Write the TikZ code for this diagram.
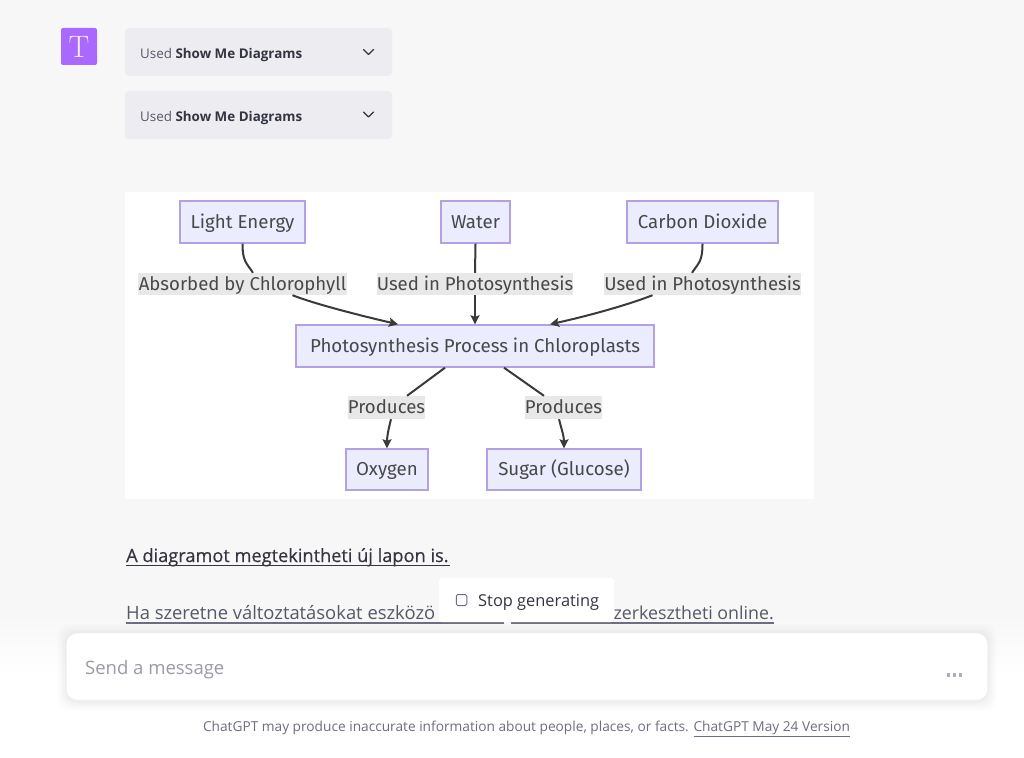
\documentclass[tikz,border=0pt]{standalone}
\usepackage{fontspec}
\usetikzlibrary{arrows.meta,calc}
\newfontfamily\diagfont{Fira Sans}
\newfontfamily\uifont{Open Sans}
\newfontfamily\uisemi[FakeBold=0.35]{Open Sans}
\definecolor{pagebg}{HTML}{F7F7F8}
\definecolor{chip}{HTML}{ECECF1}
\definecolor{avatar}{HTML}{AB68FF}
\definecolor{mfill}{HTML}{ECECFF}
\definecolor{mstroke}{HTML}{B5A0E8}
\definecolor{mtext}{HTML}{484848}
\definecolor{lblbg}{HTML}{E8E8E8}
\definecolor{edgec}{HTML}{3A3A3A}
\definecolor{uidark}{HTML}{343541}
\definecolor{uimid}{HTML}{565869}
\definecolor{uigray}{HTML}{6E6E80}
\definecolor{uilight}{HTML}{9A9AA8}
\tikzset{
  mbox/.style={draw=mstroke,fill=mfill,line width=1.4pt,inner sep=0pt,text=mtext,text height=16.5pt,text depth=4pt,font=\diagfont\fontsize{18.7}{21}\selectfont},
  mlabel/.style={fill=lblbg,inner sep=0pt,text=mtext,text height=16.5pt,text depth=4pt,font=\diagfont\fontsize{18.6}{21}\selectfont},
  edge1/.style={draw=edgec,line width=2pt},
  edge2/.style={draw=edgec,line width=2pt,-{Stealth[length=9pt,width=9pt,inset=1.5pt]}},
  chipbox/.style={fill=chip,rounded corners=4pt,draw=none,inner sep=0pt},
  chiptext/.style={anchor=west,inner sep=0pt,text height=13pt,text depth=3pt,font=\uifont\fontsize{13.4}{15}\selectfont,text=uimid},
  chev/.style={draw=uidark,line width=1.4pt,line cap=round,line join=round},
  para/.style={inner sep=0pt,text height=16pt,text depth=4pt},
}
\begin{document}
\begin{tikzpicture}[x=1pt,y=-1pt]
\useasboundingbox (0,0) rectangle (1024,757);
\fill[pagebg] (0,0) rectangle (1024,757);
% header
\node[fill=avatar,rounded corners=2pt,minimum width=36pt,minimum height=37pt,inner sep=0pt,text=white!85!avatar,font=\fontsize{31}{31}\selectfont] (av) at (79,46.5) {T};
\node[chipbox,minimum width=267pt,minimum height=48pt] (chipa) at (258.5,52) {};
\node[chipbox,minimum width=267pt,minimum height=48pt] (chipb) at (258.5,115) {};
\node[chiptext] (ta) at (140,53.5) {Used \textbf{\textcolor{uidark}{Show Me Diagrams}}};
\node[chiptext] (tb) at (140,116.5) {Used \textbf{\textcolor{uidark}{Show Me Diagrams}}};
\draw[chev] (363.5,49.5) -- (368.5,54.5) -- (373.5,49.5);
\draw[chev] (363.5,112) -- (368.5,117) -- (373.5,112);
% diagram
\fill[white] (125,192) rectangle (814,499);
\node[mbox,minimum width=125pt,minimum height=42pt] (light) at (242.5,222) {Light Energy};
\node[mbox,minimum width=69pt,minimum height=42pt] (water) at (475.5,222) {Water};
\node[mbox,minimum width=151pt,minimum height=42pt] (co2) at (702.5,222) {Carbon Dioxide};
\node[mbox,minimum width=358pt,minimum height=42pt] (proc) at (475,346) {Photosynthesis Process in Chloroplasts};
\node[mbox,minimum width=82pt,minimum height=41pt] (oxy) at (387,469.5) {Oxygen};
\node[mbox,minimum width=154pt,minimum height=41pt] (sugar) at (564,469.5) {Sugar (Glucose)};
\node[mlabel,minimum width=209pt,minimum height=22pt] (la) at (242.5,284) {Absorbed by Chlorophyll};
\node[mlabel,minimum width=196pt,minimum height=22pt] (lb) at (475,284) {Used in Photosynthesis};
\node[mlabel,minimum width=195pt,minimum height=22pt] (lc) at (702.5,284) {Used in Photosynthesis};
\node[mlabel,minimum width=77pt,minimum height=23pt] (ld) at (386.5,407.5) {Produces};
\node[mlabel,minimum width=77pt,minimum height=23pt] (le) at (563.5,407.5) {Produces};
% connectors
\draw[edge1] (light.south) .. controls ($(light.south)+(0,18)$) and ($(la.north)+(4,-10)$) .. ($(la.north)+(10.5,0)$);
\draw[edge2] ($(la.south)+(50,0)$) .. controls ($(la.south)+(70,8)$) and ($(proc.north)+(-120,-10)$) .. ($(proc.north)+(-77,0)$);
\draw[edge1] (water.south) -- (lb.north);
\draw[edge2] (lb.south) -- (proc.north);
\draw[edge1] (co2.south) .. controls ($(co2.south)+(0,18)$) and ($(lc.north)+(-4,-10)$) .. ($(lc.north)+(-10.5,0)$);
\draw[edge2] ($(lc.south)+(-50,0)$) .. controls ($(lc.south)+(-70,8)$) and ($(proc.north)+(120,-10)$) .. ($(proc.north)+(75,0)$);
\draw[edge1] ($(proc.south)+(-30,0)$) -- ($(ld.north)+(20.5,0)$);
\draw[edge2] ($(ld.south)+(4.5,0)$) .. controls ($(ld.south)+(2,10)$) and ($(oxy.north)+(0,-12)$) .. (oxy.north);
\draw[edge1] ($(proc.south)+(29,0)$) -- ($(le.north)+(-19.5,0)$);
\draw[edge2] ($(le.south)+(-4.5,0)$) .. controls ($(le.south)+(-2,10)$) and ($(sugar.north)+(0,-12)$) .. (sugar.north);
% bottom fade
\shade[top color=pagebg,bottom color=white] (0,615) rectangle (1024,675);
\fill[white] (0,675) rectangle (1024,757);
% text lines
\node[para,anchor=west,text=uidark,font=\uisemi\fontsize{18.2}{20}\selectfont] (p1) at (126,556) {A diagramot megtekintheti új lapon is.};
\draw[uidark,line width=1.6pt] (126,565.5) -- (450,565.5);
\node[para,anchor=west,text=uimid,font=\uifont\fontsize{18.4}{20}\selectfont] (p2a) at (126,613) {Ha szeretne változtatásokat eszközö};
\node[para,anchor=east,text=uimid,font=\uifont\fontsize{17.8}{20}\selectfont] (p2b) at (774,613) {zerkesztheti online.};
\draw[uigray,line width=1.5pt] (126,623) -- (504,623) (511,623) -- (774,623);
% stop button
\node[fill=white,rounded corners=3pt,minimum width=175pt,minimum height=44pt,inner sep=0pt] (stop) at (526.5,600) {};
\node[draw=uigray,rounded corners=1.5pt,line width=1pt,minimum width=10.5pt,minimum height=11pt,inner sep=0pt] (sq) at (461.5,600) {};
\node[para,anchor=west,text=uidark,font=\uifont\fontsize{16.4}{18}\selectfont] (st) at (478,600) {Stop generating};
% input
\foreach \g/\o in {10/0.008,8/0.01,6/0.012,4/0.015,2/0.018}{
  \fill[black,opacity=\o,rounded corners=12pt] (67-\g,633-\g+1) rectangle (987+\g,700+\g+1);
}
\node[fill=white,draw=black!4,line width=0.6pt,rounded corners=11pt,minimum width=921pt,minimum height=67pt,inner sep=0pt] (input) at (527,666.5) {};
\node[para,anchor=west,text=uilight,font=\uifont\fontsize{18.5}{20}\selectfont] (msg) at (85,668) {Send a message};
\foreach \x in {948,954,960}{\fill[uilight!80] (\x-1.5,672.5) rectangle (\x+1.5,677);}
% footer
\node[inner sep=0pt,text height=13pt,text depth=3pt,text=uigray,font=\uifont\fontsize{13.7}{16}\selectfont] (foot) at (526.5,726) {ChatGPT may produce inaccurate information about people, places, or facts. \underline{ChatGPT May 24 Version}};
\end{tikzpicture}
\end{document}
